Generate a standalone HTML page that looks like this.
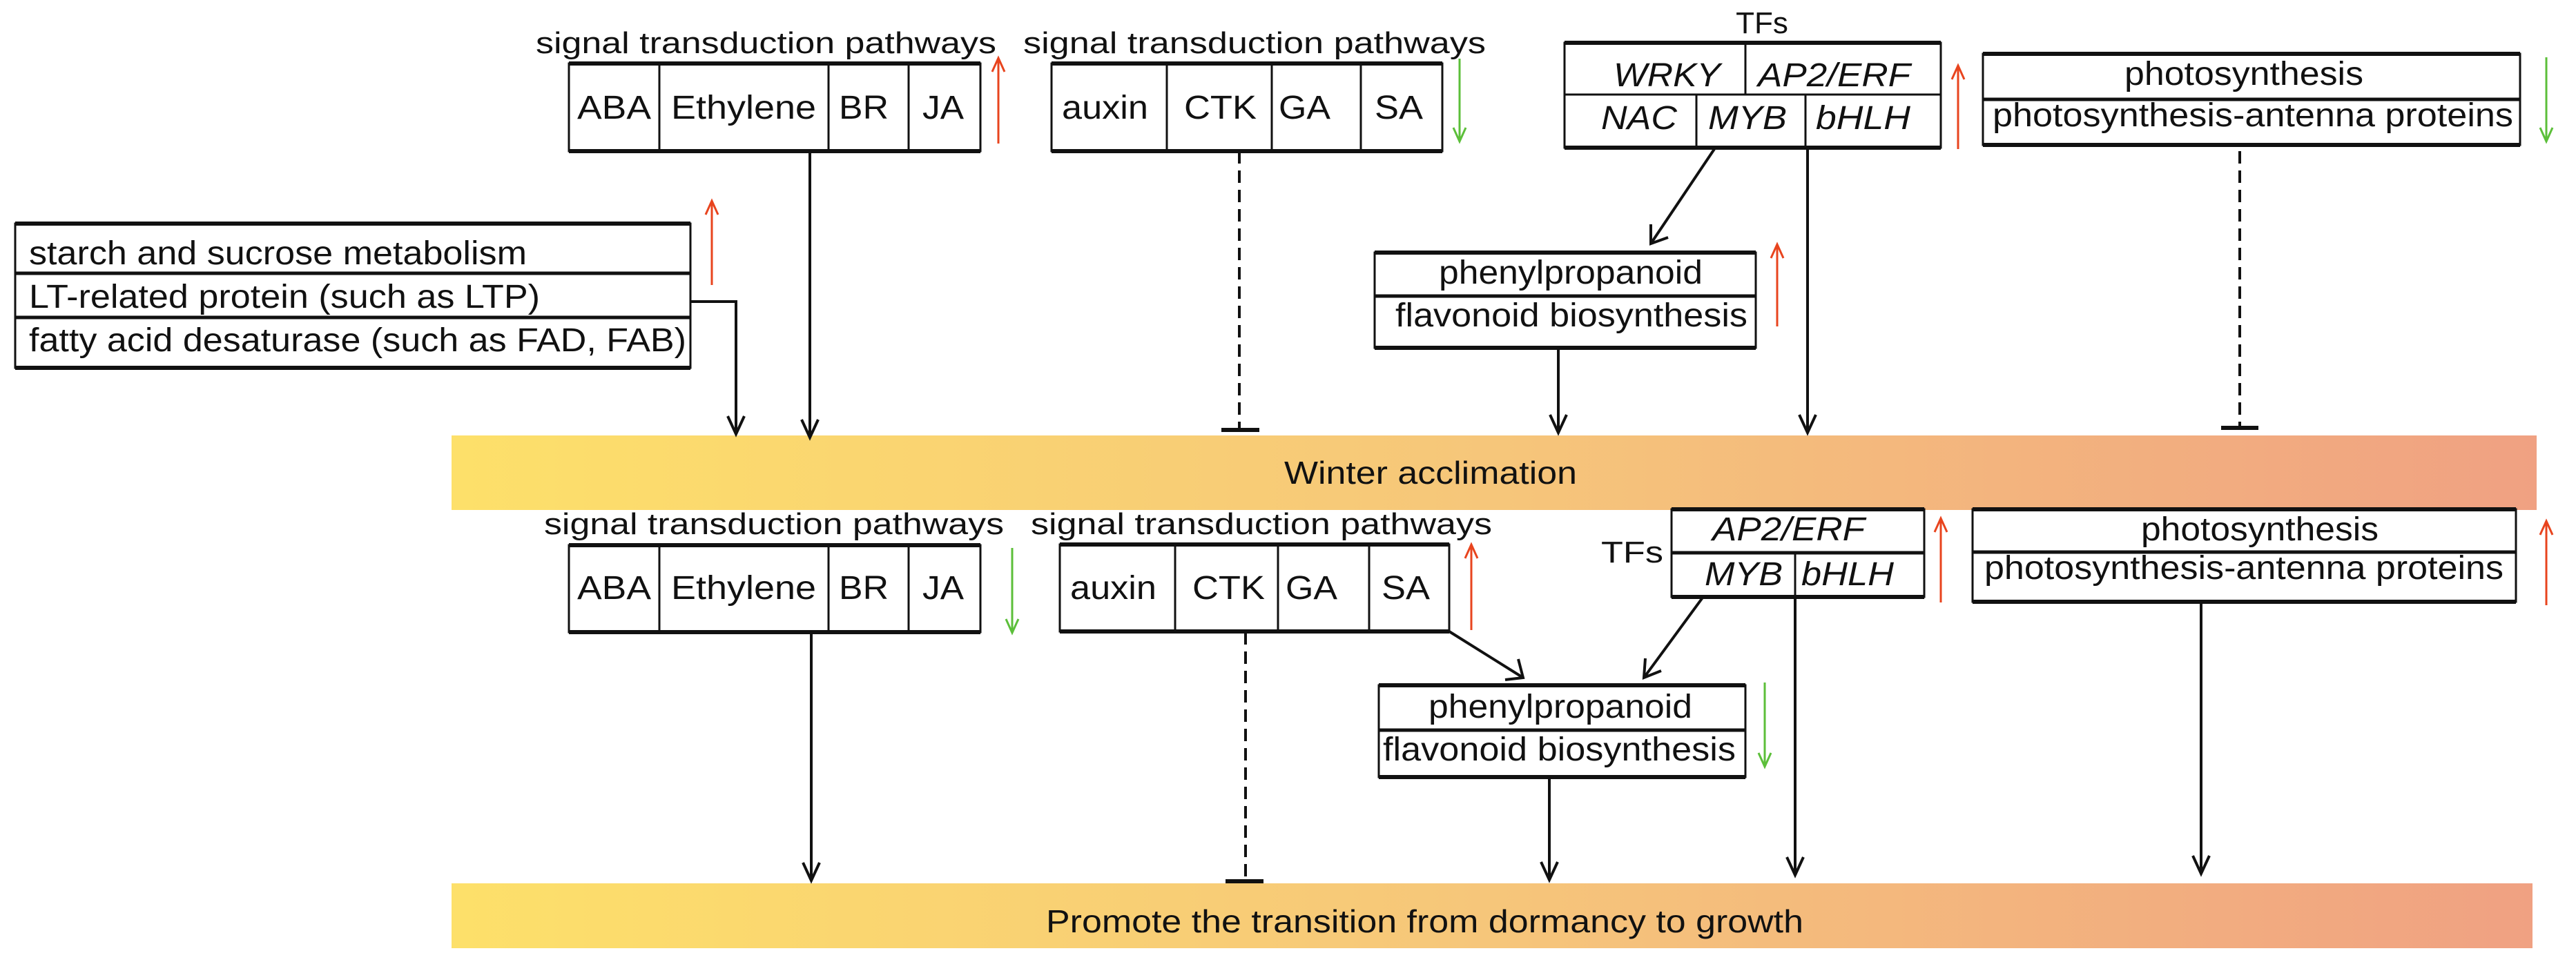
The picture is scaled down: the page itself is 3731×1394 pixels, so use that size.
<!DOCTYPE html>
<html><head><meta charset="utf-8"><style>html,body{margin:0;padding:0;background:#fff}svg{display:block}</style></head>
<body>
<svg width="3731" height="1394" viewBox="0 0 3731 1394" xmlns="http://www.w3.org/2000/svg" font-family="Liberation Sans, Arial, sans-serif" fill="#111">
<defs>
<linearGradient id="g" x1="0" x2="1" y1="0" y2="0">
<stop offset="0" stop-color="#fde06a"/><stop offset="0.5" stop-color="#f6c67a"/><stop offset="1" stop-color="#f0a182"/>
</linearGradient>
</defs>
<rect x="654" y="631" width="3020" height="108" fill="url(#g)"/>
<rect x="654" y="1280" width="3014" height="94" fill="url(#g)"/>
<text x="1860" y="701" font-size="46" textLength="424" lengthAdjust="spacingAndGlyphs">Winter acclimation</text>
<text x="1515" y="1351" font-size="46" textLength="1097" lengthAdjust="spacingAndGlyphs">Promote the transition from dormancy to growth</text>

<g fill="none" stroke="#111">
<rect x="824" y="92" width="596" height="127" stroke-width="3"/>
<line x1="824" y1="92" x2="1420" y2="92" stroke-width="6"/><line x1="824" y1="219" x2="1420" y2="219" stroke-width="6"/>
<line x1="955" y1="92" x2="955" y2="219" stroke-width="3"/><line x1="1200" y1="92" x2="1200" y2="219" stroke-width="3"/><line x1="1316" y1="92" x2="1316" y2="219" stroke-width="3"/>
<rect x="1523" y="92" width="566" height="127" stroke-width="3"/>
<line x1="1523" y1="92" x2="2089" y2="92" stroke-width="6"/><line x1="1523" y1="219" x2="2089" y2="219" stroke-width="6"/>
<line x1="1690" y1="92" x2="1690" y2="219" stroke-width="3"/><line x1="1842" y1="92" x2="1842" y2="219" stroke-width="3"/><line x1="1971" y1="92" x2="1971" y2="219" stroke-width="3"/>
<rect x="2266" y="62" width="545" height="152" stroke-width="3"/>
<line x1="2266" y1="62" x2="2811" y2="62" stroke-width="6"/><line x1="2266" y1="214" x2="2811" y2="214" stroke-width="6"/>
<line x1="2266" y1="137" x2="2811" y2="137" stroke-width="3"/>
<line x1="2528" y1="62" x2="2528" y2="137" stroke-width="3"/>
<line x1="2457" y1="137" x2="2457" y2="214" stroke-width="3"/><line x1="2615" y1="137" x2="2615" y2="214" stroke-width="3"/>
<rect x="2872" y="78" width="778" height="132" stroke-width="3"/>
<line x1="2872" y1="78" x2="3650" y2="78" stroke-width="6"/><line x1="2872" y1="210" x2="3650" y2="210" stroke-width="6"/>
<line x1="2872" y1="144" x2="3650" y2="144" stroke-width="5"/>
<rect x="22" y="324" width="978" height="209" stroke-width="3"/>
<line x1="22" y1="324" x2="1000" y2="324" stroke-width="6"/><line x1="22" y1="533" x2="1000" y2="533" stroke-width="6"/>
<line x1="22" y1="396" x2="1000" y2="396" stroke-width="5"/><line x1="22" y1="460" x2="1000" y2="460" stroke-width="5"/>
<rect x="1991" y="366" width="552" height="138" stroke-width="3"/>
<line x1="1991" y1="366" x2="2543" y2="366" stroke-width="6"/><line x1="1991" y1="504" x2="2543" y2="504" stroke-width="6"/>
<line x1="1991" y1="429" x2="2543" y2="429" stroke-width="5"/>

<rect x="824" y="790" width="596" height="126" stroke-width="3"/>
<line x1="824" y1="790" x2="1420" y2="790" stroke-width="6"/><line x1="824" y1="916" x2="1420" y2="916" stroke-width="6"/>
<line x1="955" y1="790" x2="955" y2="916" stroke-width="3"/><line x1="1200" y1="790" x2="1200" y2="916" stroke-width="3"/><line x1="1316" y1="790" x2="1316" y2="916" stroke-width="3"/>
<rect x="1535" y="789" width="564" height="126" stroke-width="3"/>
<line x1="1535" y1="789" x2="2099" y2="789" stroke-width="6"/><line x1="1535" y1="915" x2="2099" y2="915" stroke-width="6"/>
<line x1="1702" y1="789" x2="1702" y2="915" stroke-width="3"/><line x1="1851" y1="789" x2="1851" y2="915" stroke-width="3"/><line x1="1983" y1="789" x2="1983" y2="915" stroke-width="3"/>
<rect x="2421" y="738" width="366" height="127" stroke-width="3"/>
<line x1="2421" y1="738" x2="2787" y2="738" stroke-width="6"/><line x1="2421" y1="865" x2="2787" y2="865" stroke-width="6"/>
<line x1="2421" y1="801" x2="2787" y2="801" stroke-width="5"/>
<line x1="2600" y1="801" x2="2600" y2="865" stroke-width="3"/>
<rect x="2857" y="738" width="787" height="134" stroke-width="3"/>
<line x1="2857" y1="738" x2="3644" y2="738" stroke-width="6"/><line x1="2857" y1="872" x2="3644" y2="872" stroke-width="6"/>
<line x1="2857" y1="800" x2="3644" y2="800" stroke-width="5"/>
<rect x="1997" y="993" width="531" height="133" stroke-width="3"/>
<line x1="1997" y1="993" x2="2528" y2="993" stroke-width="6"/><line x1="1997" y1="1126" x2="2528" y2="1126" stroke-width="6"/>
<line x1="1997" y1="1058" x2="2528" y2="1058" stroke-width="5"/>

<g stroke-width="4">
<polyline points="1000,437 1066,437 1066,629"/><polyline points="1054,603 1066,629 1078,603"/>
<line x1="1173" y1="219" x2="1173" y2="634"/><polyline points="1161,608 1173,634 1185,608"/>
<line x1="1795" y1="219" x2="1795" y2="623" stroke-dasharray="18,10"/><line x1="1769" y1="623" x2="1824" y2="623" stroke-width="6"/>
<line x1="2483" y1="216" x2="2391" y2="353"/><polyline points="2391,325 2391,353 2416,344"/>
<line x1="2618" y1="216" x2="2618" y2="627"/><polyline points="2606,601 2618,627 2630,601"/>
<line x1="2257" y1="504" x2="2257" y2="627"/><polyline points="2245,601 2257,627 2269,601"/>
<line x1="3244" y1="219" x2="3244" y2="620" stroke-dasharray="18,10"/><line x1="3217" y1="620" x2="3271" y2="620" stroke-width="6"/>
</g>
<g stroke-width="4">
<line x1="1175" y1="916" x2="1175" y2="1276"/><polyline points="1163,1250 1175,1276 1187,1250"/>
<line x1="1804" y1="916" x2="1804" y2="1277" stroke-dasharray="18,10"/><line x1="1775" y1="1277" x2="1830" y2="1277" stroke-width="6"/>
<line x1="2099" y1="915" x2="2206" y2="982"/><polyline points="2199,955 2206,982 2180,985"/>
<line x1="2466" y1="866" x2="2381" y2="982"/><polyline points="2383,954 2381,982 2406,972"/>
<line x1="2600" y1="866" x2="2600" y2="1268"/><polyline points="2588,1242 2600,1268 2612,1242"/>
<line x1="2244" y1="1126" x2="2244" y2="1275"/><polyline points="2232,1249 2244,1275 2256,1249"/>
<line x1="3188" y1="872" x2="3188" y2="1266"/><polyline points="3176,1240 3188,1266 3200,1240"/>
</g>
<g stroke-width="3">
<g stroke="#e8441e">
<line x1="1446" y1="208" x2="1446" y2="85"/><polyline points="1437,104 1446,84 1455,104"/>
<line x1="1031" y1="413" x2="1031" y2="292"/><polyline points="1022,311 1031,291 1040,311"/>
<line x1="2836" y1="216" x2="2836" y2="96"/><polyline points="2827,115 2836,95 2845,115"/>
<line x1="2574" y1="473" x2="2574" y2="355"/><polyline points="2565,374 2574,354 2583,374"/>
<line x1="2131" y1="913" x2="2131" y2="790"/><polyline points="2122,809 2131,789 2140,809"/>
<line x1="2811" y1="873" x2="2811" y2="752"/><polyline points="2802,771 2811,751 2820,771"/>
<line x1="3688" y1="877" x2="3688" y2="756"/><polyline points="3679,775 3688,755 3697,775"/>
</g>
<g stroke="#5cbf3a">
<line x1="2114" y1="85" x2="2114" y2="204"/><polyline points="2105,185 2114,205 2123,185"/>
<line x1="3688" y1="83" x2="3688" y2="204"/><polyline points="3679,185 3688,205 3697,185"/>
<line x1="1466" y1="794" x2="1466" y2="916"/><polyline points="1457,897 1466,917 1475,897"/>
<line x1="2556" y1="989" x2="2556" y2="1110"/><polyline points="2547,1091 2556,1111 2565,1091"/>
</g>
</g>
</g>

<g font-size="44">
<text x="776" y="77" textLength="667" lengthAdjust="spacingAndGlyphs">signal transduction pathways</text>
<text x="1482" y="77" textLength="670" lengthAdjust="spacingAndGlyphs">signal transduction pathways</text>
<text x="788" y="774" textLength="666" lengthAdjust="spacingAndGlyphs">signal transduction pathways</text>
<text x="1493" y="774" textLength="668" lengthAdjust="spacingAndGlyphs">signal transduction pathways</text>
<text x="2552" y="48" text-anchor="middle">TFs</text>
<text x="2319" y="815" textLength="90" lengthAdjust="spacingAndGlyphs">TFs</text>
</g>
<g font-size="48">
<text x="836" y="172" textLength="107" lengthAdjust="spacingAndGlyphs">ABA</text>
<text x="972" y="172" textLength="210" lengthAdjust="spacingAndGlyphs">Ethylene</text>
<text x="1215" y="172" textLength="72" lengthAdjust="spacingAndGlyphs">BR</text>
<text x="1336" y="172" textLength="60" lengthAdjust="spacingAndGlyphs">JA</text>
<text x="1538" y="172" textLength="125" lengthAdjust="spacingAndGlyphs">auxin</text>
<text x="1715" y="172" textLength="105" lengthAdjust="spacingAndGlyphs">CTK</text>
<text x="1852" y="172" textLength="75" lengthAdjust="spacingAndGlyphs">GA</text>
<text x="1991" y="172" textLength="70" lengthAdjust="spacingAndGlyphs">SA</text>
<g font-style="italic">
<text x="2337" y="125" textLength="155" lengthAdjust="spacingAndGlyphs">WRKY</text>
<text x="2546" y="125" textLength="221" lengthAdjust="spacingAndGlyphs">AP2/ERF</text>
<text x="2319" y="187" textLength="110" lengthAdjust="spacingAndGlyphs">NAC</text>
<text x="2474" y="187" textLength="114" lengthAdjust="spacingAndGlyphs">MYB</text>
<text x="2630" y="187" textLength="137" lengthAdjust="spacingAndGlyphs">bHLH</text>
<text x="2480" y="783" textLength="221" lengthAdjust="spacingAndGlyphs">AP2/ERF</text>
<text x="2469" y="848" textLength="113" lengthAdjust="spacingAndGlyphs">MYB</text>
<text x="2609" y="848" textLength="134" lengthAdjust="spacingAndGlyphs">bHLH</text>
</g>
<text x="3077" y="123" textLength="346" lengthAdjust="spacingAndGlyphs">photosynthesis</text>
<text x="2886" y="183" textLength="754" lengthAdjust="spacingAndGlyphs">photosynthesis-antenna proteins</text>
<text x="42" y="383" textLength="721" lengthAdjust="spacingAndGlyphs">starch and sucrose metabolism</text>
<text x="42" y="446" textLength="740" lengthAdjust="spacingAndGlyphs">LT-related protein (such as LTP)</text>
<text x="42" y="509" textLength="952" lengthAdjust="spacingAndGlyphs">fatty acid desaturase (such as FAD, FAB)</text>
<text x="2084" y="411" textLength="382" lengthAdjust="spacingAndGlyphs">phenylpropanoid</text>
<text x="2021" y="473" textLength="510" lengthAdjust="spacingAndGlyphs">flavonoid biosynthesis</text>

<text x="836" y="868" textLength="107" lengthAdjust="spacingAndGlyphs">ABA</text>
<text x="972" y="868" textLength="210" lengthAdjust="spacingAndGlyphs">Ethylene</text>
<text x="1215" y="868" textLength="72" lengthAdjust="spacingAndGlyphs">BR</text>
<text x="1336" y="868" textLength="60" lengthAdjust="spacingAndGlyphs">JA</text>
<text x="1550" y="868" textLength="125" lengthAdjust="spacingAndGlyphs">auxin</text>
<text x="1727" y="868" textLength="105" lengthAdjust="spacingAndGlyphs">CTK</text>
<text x="1862" y="868" textLength="75" lengthAdjust="spacingAndGlyphs">GA</text>
<text x="2001" y="868" textLength="70" lengthAdjust="spacingAndGlyphs">SA</text>
<text x="3101" y="783" textLength="344" lengthAdjust="spacingAndGlyphs">photosynthesis</text>
<text x="2874" y="839" textLength="752" lengthAdjust="spacingAndGlyphs">photosynthesis-antenna proteins</text>
<text x="2069" y="1040" textLength="382" lengthAdjust="spacingAndGlyphs">phenylpropanoid</text>
<text x="2003" y="1102" textLength="511" lengthAdjust="spacingAndGlyphs">flavonoid biosynthesis</text>
</g>
</svg>
</body></html>
